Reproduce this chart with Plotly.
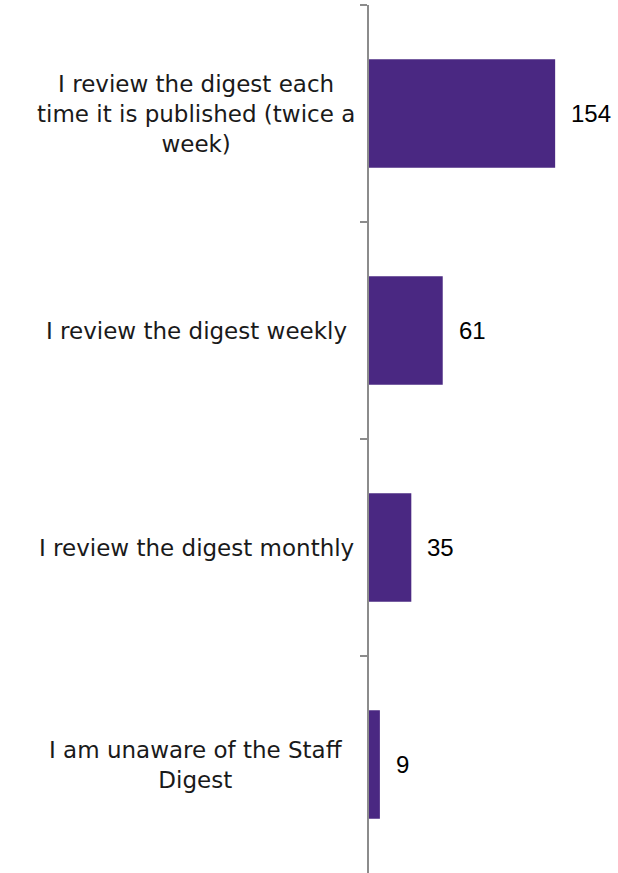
import plotly.graph_objects as go

# Survey responses: how often staff read the digest
categories = [
    "I review the digest each<br>time it is published (twice a<br>week)",
    "I review the digest weekly",
    "I review the digest monthly",
    "I am unaware of the Staff<br>Digest",
]
counts = [154, 61, 35, 9]

bar_color = "#4a2882"
axis_color = "#8c8c8c"
label_font = dict(family="DejaVu Sans, sans-serif", size=23, color="#1a1a1a")

fig = go.Figure(
    go.Bar(
        x=counts,
        y=categories,
        orientation="h",
        marker=dict(color=bar_color, line=dict(width=0)),
        hoverinfo="skip",
    )
)

# Value labels to the right of each bar
for cat, val in zip(categories, counts):
    fig.add_annotation(
        x=val, y=cat, xref="x", yref="y",
        text=str(val), showarrow=False,
        xanchor="left", xshift=14,
        font=dict(family="Liberation Sans, Arial", size=24, color="#000000"),
    )

# Category labels, centred multi-line text in a column left of the axis
label_center_px = 196
for cat in categories:
    fig.add_annotation(
        x=0, y=cat, xref="paper", yref="y",
        text=cat, showarrow=False,
        xanchor="center", xshift=label_center_px - 369, align="center",
        font=label_font,
    )

fig.update_layout(
    width=618, height=873,
    margin=dict(l=369, r=0, t=5, b=0),
    paper_bgcolor="white", plot_bgcolor="white",
    bargap=0.5,
    showlegend=False,
    xaxis=dict(range=[0, 206], visible=False, showgrid=False, zeroline=False),
    yaxis=dict(
        categoryorder="array", categoryarray=categories,
        autorange="reversed",
        showticklabels=False,
        showline=True, linecolor=axis_color, linewidth=2,
        ticks="outside", ticklen=7, tickcolor=axis_color, tickwidth=2,
        tickson="boundaries",
        showgrid=False, zeroline=False,
    ),
)

fig.write_html("out.html")
